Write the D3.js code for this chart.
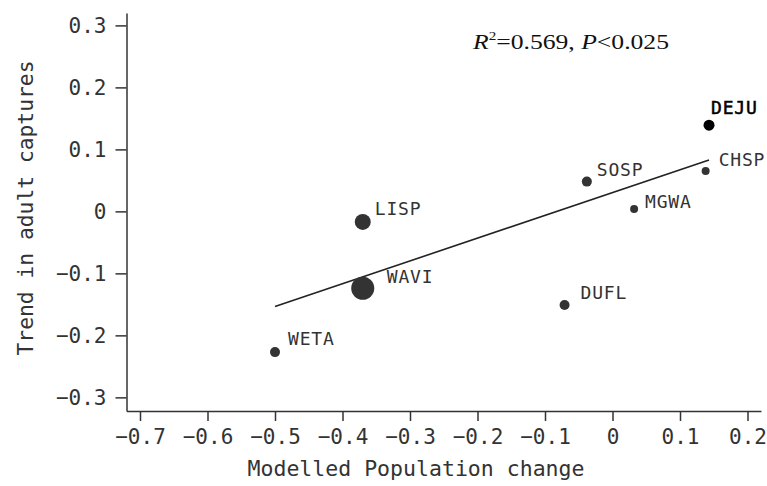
<!DOCTYPE html>
<html>
<head>
<meta charset="utf-8">
<title>Trend in adult captures vs modelled population change</title>
<script src="https://d3js.org/d3.v7.min.js"></script>
<style>
  body { margin: 0; background: #fff; }
  svg { display: block; background: #fff; }
  .axis path, .axis line { stroke: #333; stroke-width: 1.5px; }
  .axis text { font-family: "DejaVu Sans Mono", monospace; font-size: 21px; fill: #333; }
  .lab { font-family: "DejaVu Sans Mono", monospace; font-size: 18px; letter-spacing: 0.8px; fill: #333; }
  .title { font-family: "DejaVu Sans Mono", monospace; font-size: 21px; fill: #333; }
  .stat { font-family: "Liberation Serif", "Times New Roman", serif; font-size: 22px; fill: #111; }
</style>
</head>
<body>
<svg width="767" height="486"></svg>
<script>
// species codes
var species = ["WETA", "LISP", "WAVI", "DUFL", "SOSP", "MGWA", "CHSP", "DEJU"];
// modelled population change (x)
var popChange = [-0.50, -0.37, -0.37, -0.071, -0.038, 0.032, 0.138, 0.143];
// trend in adult captures (y)
var captureTrend = [-0.227, -0.017, -0.124, -0.151, 0.048, 0.004, 0.065, 0.139];
// fitted line end points
var fitX = [-0.50, 0.143];
var fitY = [-0.1535, 0.083];

var xTicks = [-0.7, -0.6, -0.5, -0.4, -0.3, -0.2, -0.1, 0, 0.1, 0.2];
var yTicks = [-0.3, -0.2, -0.1, 0, 0.1, 0.2, 0.3];

var svg = d3.select("svg");

var x = d3.scaleLinear().domain([-0.72, 0.22]).range([126.5, 761]);
var y = d3.scaleLinear().domain([-0.322, 0.32]).range([411, 13]);

var fmt = function(d){ return d === 0 ? "0" : d3.format(".1f")(d); };

svg.append("g").attr("class", "axis")
  .attr("transform", "translate(" + x.range()[0] + ",0)")
  .call(d3.axisLeft(y).tickValues(yTicks).tickSize(11).tickSizeOuter(0).tickPadding(9).tickFormat(fmt))
  .selectAll("text").attr("dy", "0.36em");

svg.append("g").attr("class", "axis")
  .attr("transform", "translate(0," + y.range()[0] + ")")
  .call(d3.axisBottom(x).tickValues(xTicks).tickSize(10).tickSizeOuter(0).tickPadding(8).tickFormat(fmt));

svg.selectAll(".domain").attr("fill", "none");

// regression line
svg.append("line")
  .attr("x1", x(fitX[0])).attr("y1", y(fitY[0]))
  .attr("x2", x(fitX[1])).attr("y2", y(fitY[1]))
  .style("stroke", "#222").style("stroke-width", 1.6);

var radius = {WETA: 5, LISP: 8, WAVI: 11.5, DUFL: 5, SOSP: 5, MGWA: 4, CHSP: 4, DEJU: 5.5};
var offset = {WETA: [13, -7], LISP: [12, -7], WAVI: [24, -5], DUFL: [16, -6],
              SOSP: [10, -6], MGWA: [11, -1], CHSP: [13, -5], DEJU: [2, -11]};

var pts = species.map(function(s, i){ return {name: s, x: popChange[i], y: captureTrend[i]}; });

var g = svg.selectAll("g.pt").data(pts).enter().append("g").attr("class", "pt");
g.append("circle")
  .attr("cx", function(d){ return x(d.x); })
  .attr("cy", function(d){ return y(d.y); })
  .attr("r", function(d){ return radius[d.name]; })
  .style("fill", function(d){ return d.name == "DEJU" ? "#000" : "#333"; });
g.append("text").attr("class", "lab")
  .attr("x", function(d){ return x(d.x) + offset[d.name][0]; })
  .attr("y", function(d){ return y(d.y) + offset[d.name][1]; })
  .style("fill", function(d){ return d.name == "DEJU" ? "#000" : "#333"; })
  .style("stroke", function(d){ return d.name == "DEJU" ? "#000" : "none"; })
  .style("stroke-width", 0.5)
  .text(function(d){ return d.name; });

// axis titles
svg.append("text").attr("class", "title")
  .attr("text-anchor", "middle")
  .attr("x", 416).attr("y", 476)
  .attr("textLength", 337).attr("lengthAdjust", "spacingAndGlyphs")
  .text("Modelled Population change");

svg.append("text").attr("class", "title")
  .attr("text-anchor", "middle")
  .attr("transform", "translate(33,208) rotate(-90)")
  .attr("textLength", 295).attr("lengthAdjust", "spacingAndGlyphs")
  .text("Trend in adult captures");

// statistics
var st = svg.append("text").attr("class", "stat").attr("x", 473).attr("y", 49)
  .attr("textLength", 196).attr("lengthAdjust", "spacingAndGlyphs");
st.append("tspan").style("font-style", "italic").text("R");
st.append("tspan").attr("dy", -9).style("font-size", "13px").text("2");
st.append("tspan").attr("dy", 9).text("=0.569, ");
st.append("tspan").style("font-style", "italic").text("P");
st.append("tspan").text("<0.025");
</script>
</body>
</html>
